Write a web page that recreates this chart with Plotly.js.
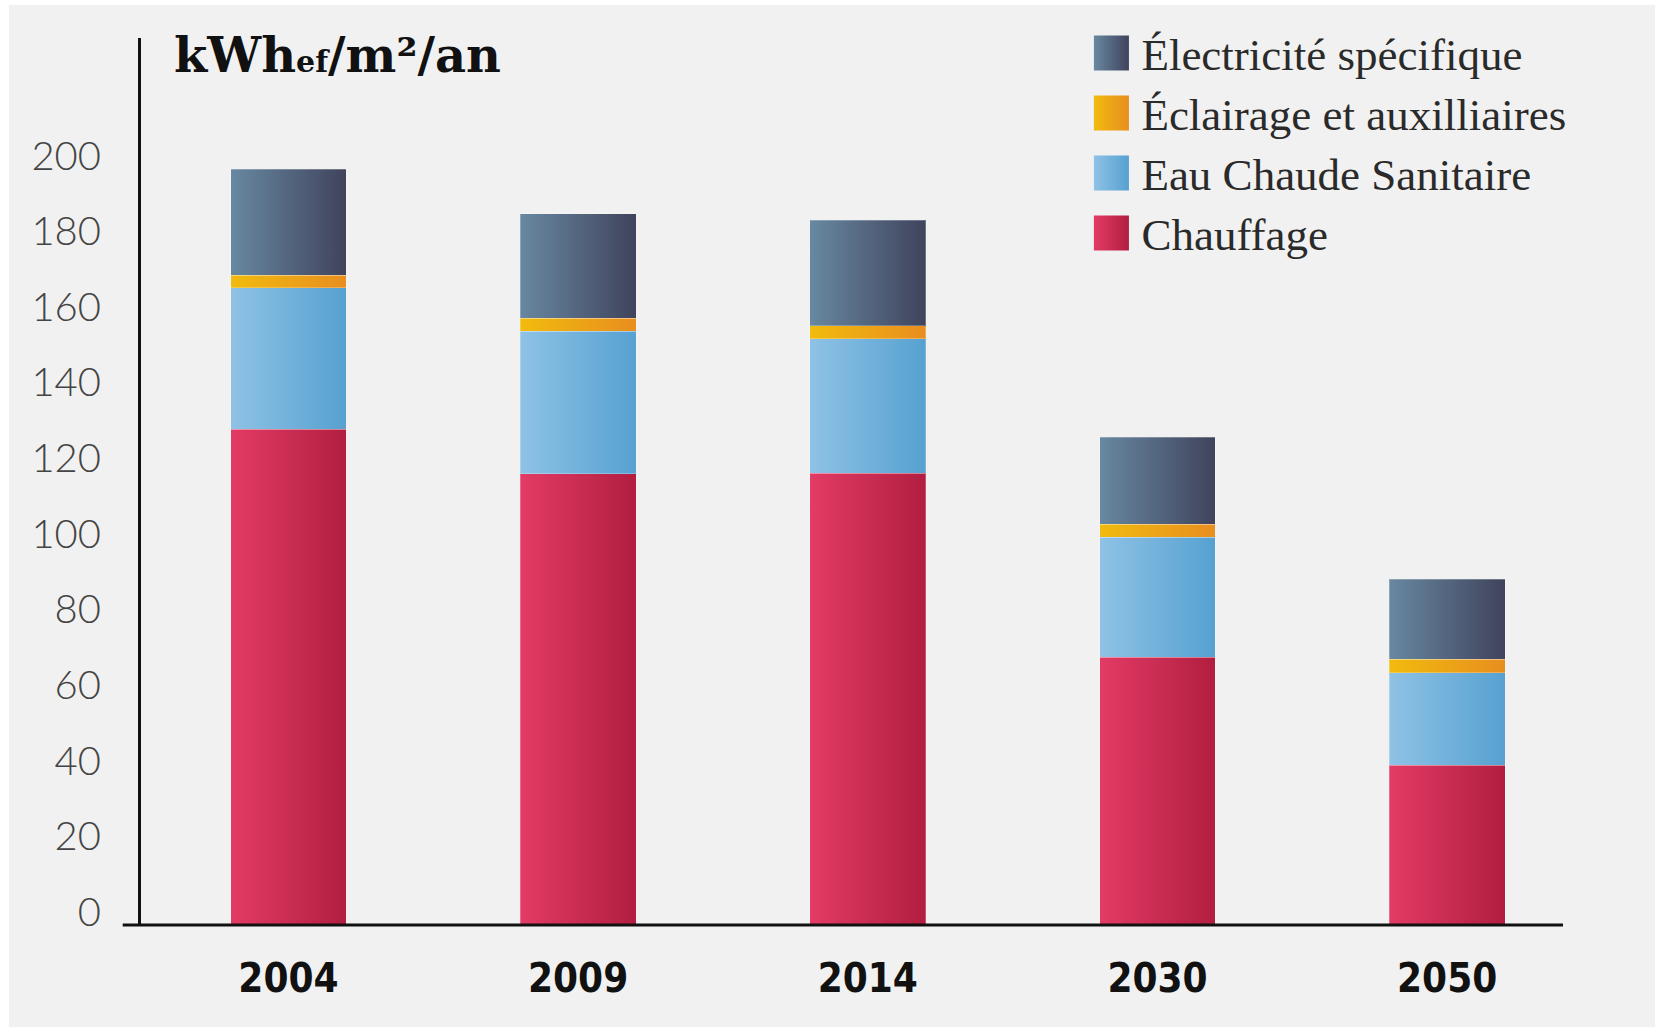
<!DOCTYPE html>
<html>
<head>
<meta charset="utf-8">
<script src="https://cdn.plot.ly/plotly-3.0.1.min.js"></script>
<style>
  html, body { margin: 0; padding: 0; background: #ffffff; width: 1659px; height: 1032px; overflow: hidden; }
  #chart { position: absolute; left: 9px; top: 5px; width: 1646px; height: 1022px; }
</style>
</head>
<body>
<div id="chart"></div>
<script>
// ---- Data (kWhef/m²/an) ----
const years = ['2004', '2009', '2014', '2030', '2050'];
const chauffage = [131, 119.3, 119.4, 70.8, 42.3];
const eauChaude = [37.5, 37.7, 35.6, 31.7, 24.4];
const eclairage = [3.3, 3.4, 3.4, 3.5, 3.6];
const electricite = [28, 27.7, 27.9, 22.9, 21.1];
const seriesNames = ['Chauffage', 'Eau Chaude Sanitaire', 'Éclairage et auxilliaires', 'Électricité spécifique'];
const yTicks = [0, 20, 40, 60, 80, 100, 120, 140, 160, 180, 200];

// ---- Styles ----
const baseColors = ['#CD2D52', '#73B1DB', '#ECA51A', '#56647E'];
const gradStops = [
  ['#E33B65', '#B11E40'],
  ['#8FC2E5', '#56A1D1'],
  ['#F1BB0E', '#E88E1F'],
  ['#6888A1', '#40435C']
];

const seriesValues = [chauffage, eauChaude, eclairage, electricite];
const traces = seriesValues.map((vals, i) => ({
  type: 'bar',
  name: seriesNames[i],
  x: years,
  y: vals,
  marker: { color: baseColors[i], line: { width: 1, color: 'rgba(255,255,255,0.25)' } },
  hoverinfo: 'skip'
}));

const layout = {
  width: 1646,
  height: 1022,
  paper_bgcolor: '#F1F1F1',
  plot_bgcolor: 'rgba(0,0,0,0)',
  barmode: 'stack',
  bargap: 0.6,
  margin: { l: 132, r: 63, t: 30, b: 102, pad: 0 },
  showlegend: true,
  legend: {
    traceorder: 'reversed',
    x: 0.655, xanchor: 'left',
    y: 1.0235, yanchor: 'top',
    bgcolor: 'rgba(0,0,0,0)',
    itemwidth: 40,
    font: { family: '"Liberation Serif", serif', size: 45, color: '#2a2a2a' }
  },
  xaxis: {
    type: 'category',
    range: [-0.509, 4.5],
    showline: false,
    showgrid: false,
    zeroline: false,
    ticks: '',
    ticklabelstandoff: 26,
    tickfont: { family: '"DejaVu Sans Condensed", "DejaVu Sans", sans-serif', size: 40, weight: 'bold', color: '#111111' },
    fixedrange: true
  },
  yaxis: {
    range: [0, 234.5],
    tickvals: yTicks,
    ticktext: yTicks.map(String),
    showline: true,
    linewidth: 3,
    linecolor: '#111111',
    showgrid: false,
    zeroline: false,
    ticks: '',
    ticklabelstandoff: 29,
    ticklabelshift: -13,
    tickfont: { family: 'Lato, sans-serif', size: 40, weight: 300, color: '#444444' },
    fixedrange: true
  },
  shapes: [{
    type: 'line', xref: 'paper', yref: 'paper',
    x0: -0.0126, x1: 0.98, y0: 0, y1: 0,
    line: { color: '#111111', width: 3 }
  }],
  annotations: [{
    xref: 'paper', yref: 'paper',
    x: 0.0214, y: 1.0146, xanchor: 'left', yanchor: 'top',
    showarrow: false,
    text: 'kWh<span style="font-size:30px">ef</span>/m²/an',
    font: { family: '"DejaVu Serif", serif', size: 48, weight: 'bold', color: '#111111' }
  }]
};

function applyGradients(gd) {
  const NS = 'http://www.w3.org/2000/svg';
  const svg = gd.querySelector('svg.main-svg');
  const defs = document.createElementNS(NS, 'defs');
  gradStops.forEach((s, i) => {
    const lg = document.createElementNS(NS, 'linearGradient');
    lg.setAttribute('id', 'bargrad' + i);
    lg.setAttribute('x1', '0'); lg.setAttribute('y1', '0');
    lg.setAttribute('x2', '1'); lg.setAttribute('y2', '0');
    [[0, s[0]], [1, s[1]]].forEach(([o, c]) => {
      const st = document.createElementNS(NS, 'stop');
      st.setAttribute('offset', String(o));
      st.setAttribute('stop-color', c);
      lg.appendChild(st);
    });
    defs.appendChild(lg);
  });
  svg.insertBefore(defs, svg.firstChild);

  gd.querySelectorAll('.barlayer .trace').forEach((t, i) => {
    t.querySelectorAll('path').forEach(p => { p.style.fill = 'url(#bargrad' + i + ')'; });
  });
  const items = Array.from(gd.querySelectorAll('.legend .traces'));
  let y0 = null;
  items.forEach((g, k) => {
    const txt = g.querySelector('.legendtext');
    const i = seriesNames.indexOf(txt ? txt.textContent : '');
    const p = g.querySelector('.legendpoints path');
    if (p && i >= 0) {
      p.style.fill = 'url(#bargrad' + i + ')';
      p.style.stroke = 'none';
      const prev = p.getAttribute('transform') || '';
      p.setAttribute('transform', prev + ' translate(-5,0) scale(2.92)');
    }
    // even 60px row pitch, as in the reference legend
    const tr = g.getAttribute('transform') || '';
    const m = tr.match(/translate\(\s*([-\d.]+)[ ,]+([-\d.]+)\s*\)/);
    if (m) {
      const x = parseFloat(m[1]), y = parseFloat(m[2]);
      if (y0 === null) y0 = y;
      g.setAttribute('transform', 'translate(' + x + ',' + (y0 + k * 60) + ')');
    }
  });
}

Plotly.newPlot('chart', traces, layout, { displayModeBar: false, staticPlot: true })
  .then(gd => applyGradients(gd));
</script>
</body>
</html>
